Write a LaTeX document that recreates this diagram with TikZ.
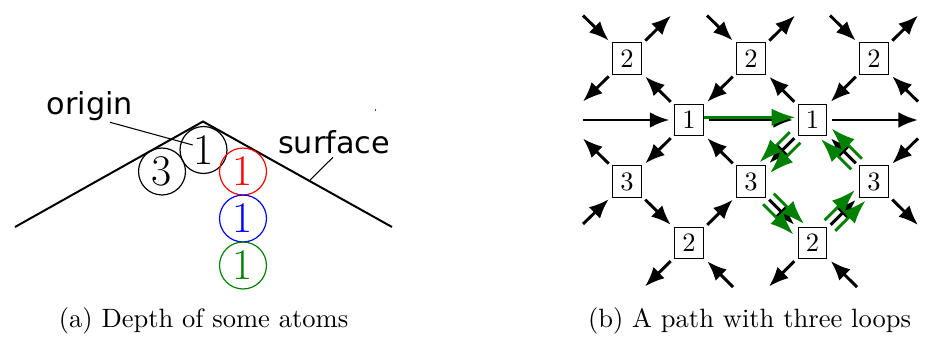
\documentclass[tikz,border=0pt]{standalone}
\usepackage{fontspec}
\newfontfamily\sansf{DejaVu Sans}
\usetikzlibrary{arrows.meta}
\definecolor{pathgreen}{RGB}{0,128,0}
\tikzset{
  box/.style={draw, line width=0.4pt, inner sep=0pt, minimum width=10.8pt, minimum height=11.8pt, font=\fontsize{10}{12}\selectfont},
  atom/.style={circle, draw, line width=0.45pt, inner sep=0pt, minimum size=17.7pt, font=\fontsize{16.5}{18}\selectfont},
  blk/.style={line width=1.1pt, -{Latex[length=7.4pt,width=6pt]}},
  grn/.style={pathgreen, line width=1.1pt, -{Latex[length=9pt,width=6.6pt]}},
  nn/.style={shorten <=1.8pt, shorten >=1.8pt},
  cn/.style={shorten >=1.8pt},
  nc/.style={shorten <=1.8pt},
  gnn/.style={shorten <=1.4pt, shorten >=-0.6pt},
  lbl/.style={font=\sansf\fontsize{11.4}{13}\selectfont, inner sep=0pt, anchor=base},
  captxt/.style={font=\fontsize{10}{12}\selectfont, inner sep=0pt, anchor=base}
}
\begin{document}
\begin{tikzpicture}[x=0.377pt,y=-0.377pt]
\useasboundingbox (0,0) rectangle (929,349);

% ---------- (a) ----------
\draw[line width=0.75pt] (15,227) -- (203,121.5) -- (392,227);
\node[atom] (a3) at (162,171.5) {3};
\node[atom] (a1) at (203.5,150) {1};
\node[atom, red] (r1) at (243,171.5) {1};
\node[atom, blue] (b1) at (243,218.5) {1};
\node[atom, pathgreen] (g1) at (243,265.5) {1};
\node[lbl] (orig) at (90,114) {origin};
\node[lbl] (surf) at (334,153) {surface};
\coordinate (os) at (110,122.3);
\coordinate (oe) at (192.7,145);
\coordinate (ss) at (333,157.3);
\coordinate (se) at (310,180);
\draw[line width=0.4pt] (os) -- (oe);
\draw[line width=0.4pt] (ss) -- (se);
\fill[pathgreen] (374.6,109.2) rectangle (375.8,111.4);

% ---------- (b) ----------
\node[box] (A1) at (627,58.5) {2};
\node[box] (A2) at (751,58.5) {2};
\node[box] (A3) at (874,58.5) {2};
\node[box] (B1) at (689,120) {1};
\node[box] (B2) at (812.5,120) {1};
\node[box] (C1) at (627,181.5) {3};
\node[box] (C2) at (751,181.5) {3};
\node[box] (C3) at (874,181.5) {3};
\node[box] (D1) at (689,243) {2};
\node[box] (D2) at (812.5,243) {2};

% free ends
\coordinate (A1ul) at (583,15.5);
\coordinate (A1ur) at (671,15.5);
\coordinate (A1ll) at (583,101.5);
\coordinate (A2ul) at (707,15.5);
\coordinate (A2ur) at (795,15.5);
\coordinate (A3ul) at (830,15.5);
\coordinate (A3ur) at (918,15.5);
\coordinate (A3lr) at (918,101.5);
\coordinate (Bl) at (583,120);
\coordinate (Br) at (918,120);
\coordinate (C1ul) at (583,138.5);
\coordinate (C1ll) at (583,224);
\coordinate (C3ur) at (918,138.5);
\coordinate (C3lr) at (918,225);
\coordinate (D1ll) at (645,286.5);
\coordinate (D1lr) at (733,287);
\coordinate (D2ll) at (769,286.5);
\coordinate (D2lr) at (857,287);

% outer arrows
\draw[blk, cn] (A1ul) -- (A1);
\draw[blk, nc] (A1) -- (A1ur);
\draw[blk, nc] (A1) -- (A1ll);
\draw[blk, cn] (A2ul) -- (A2);
\draw[blk, nc] (A2) -- (A2ur);
\draw[blk, cn] (A3ul) -- (A3);
\draw[blk, nc] (A3) -- (A3ur);
\draw[blk, cn] (A3lr) -- (A3);
\draw[blk, cn] (Bl) -- (B1);
\draw[blk, nc] (B2) -- (Br);
\draw[blk, nc] (C1) -- (C1ul);
\draw[blk, cn] (C1ll) -- (C1);
\draw[blk, cn] (C3ur) -- (C3);
\draw[blk, nc] (C3) -- (C3lr);
\draw[blk, nc] (D1) -- (D1ll);
\draw[blk, cn] (D1lr) -- (D1);
\draw[blk, nc] (D2) -- (D2ll);
\draw[blk, cn] (D2lr) -- (D2);

% inner arrows
\draw[blk, nn] (B1) -- (A1);
\draw[blk, nn] (A2) -- (B1);
\draw[blk, nn] (B2) -- (A2);
\draw[blk, nn] (A3) -- (B2);
\draw[blk, nn] (B1) -- (C1);
\draw[blk, nn] (C2) -- (B1);
\draw[blk, nn] (C1) -- (D1);
\draw[blk, nn] (D1) -- (C2);
\draw[blk, nn] (B1) -- (B2);
\draw[blk, nn] (B2) -- (C2);
\draw[blk, nn] (C2) -- (D2);
\draw[blk, nn] (D2) -- (C3);
\draw[blk, nn] (C3) -- (B2);

% green path
\draw[grn, transform canvas={shift={(0pt,1pt)}}, shorten >=0.8pt] (B1) -- (B2);
\draw[grn, gnn, transform canvas={shift={(2pt,-2pt)}}] (B2) -- (C2);
\draw[grn, gnn, transform canvas={shift={(-2pt,2pt)}}] (B2) -- (C2);
\draw[grn, gnn, transform canvas={shift={(2pt,2pt)}}] (C2) -- (D2);
\draw[grn, gnn, transform canvas={shift={(-2pt,-2pt)}}] (C2) -- (D2);
\draw[grn, gnn, transform canvas={shift={(2pt,-2pt)}}] (D2) -- (C3);
\draw[grn, gnn, transform canvas={shift={(-2pt,2pt)}}] (D2) -- (C3);
\draw[grn, gnn, transform canvas={shift={(2pt,2pt)}}] (C3) -- (B2);
\draw[grn, gnn, transform canvas={shift={(-2pt,-2pt)}}] (C3) -- (B2);

% captions
\node[captxt] (capa) at (203.5,327) {(a) Depth of some atoms};
\node[captxt] (capb) at (749.5,327) {(b) A path with three loops};
\end{tikzpicture}
\end{document}
